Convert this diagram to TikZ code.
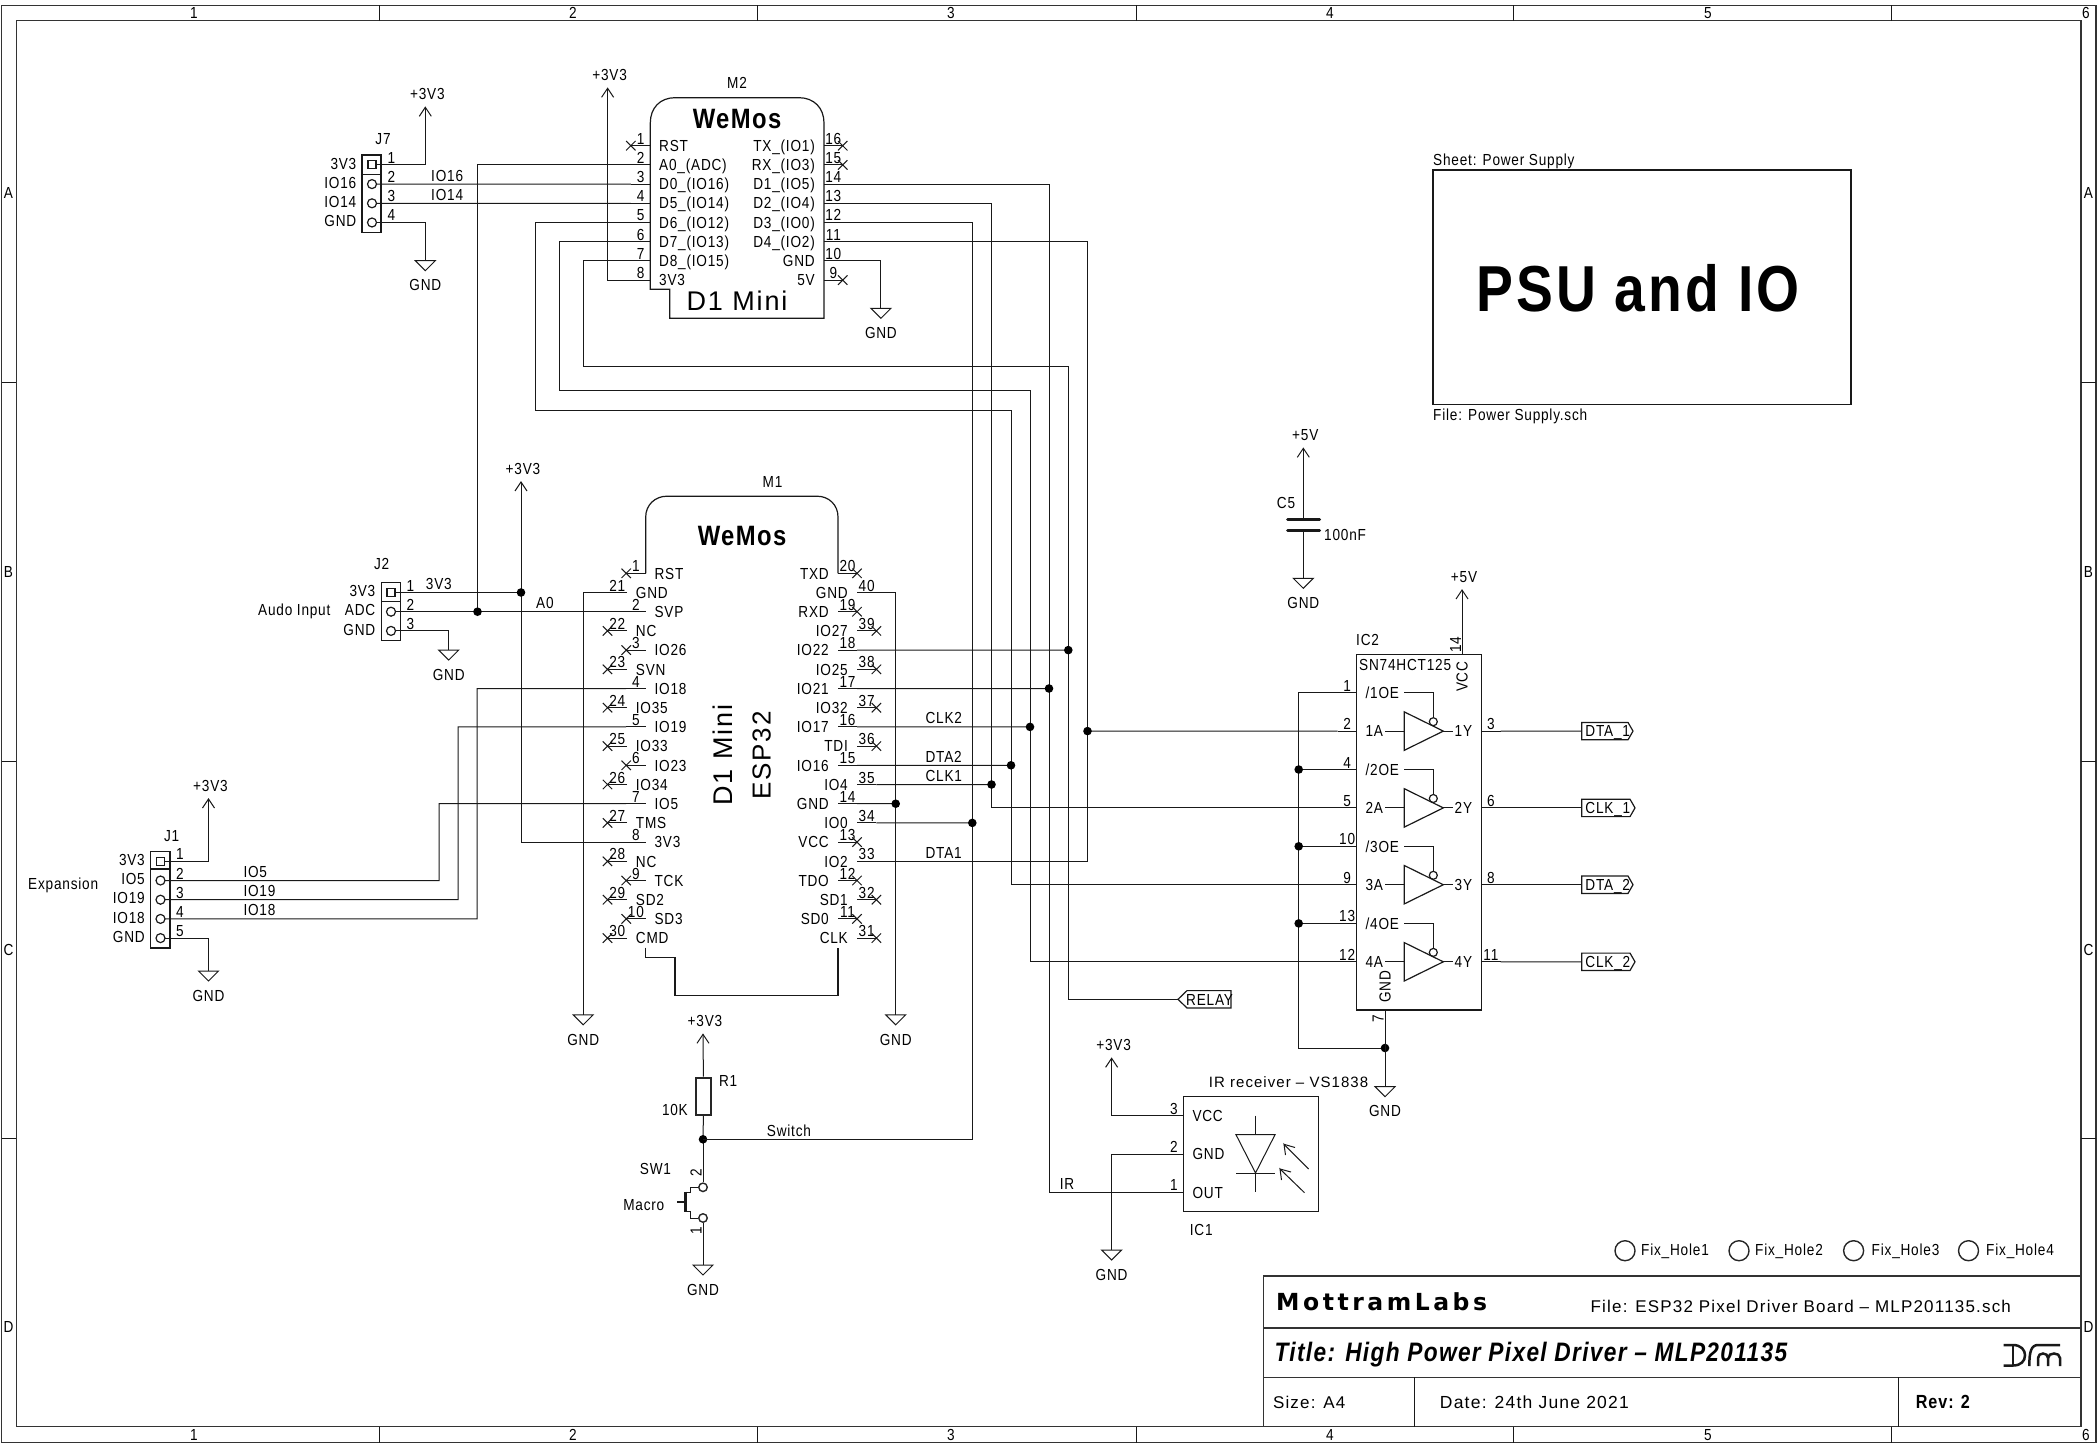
\documentclass[tikz,border=0pt]{standalone}
\usepackage{fontspec}
\setmainfont[FakeStretch=0.85,LetterSpace=5]{Liberation Sans}
\newfontfamily\wfont[LetterSpace=7]{Liberation Sans}
\newfontfamily\brand[LetterSpace=15]{DejaVu Sans}
\usetikzlibrary{calc}
\newcommand{\fs}[1]{\fontsize{#1}{#1}\selectfont}
\tikzset{
  wire/.style={line width=1pt,draw=black!90},
  sym/.style={line width=1.2pt,draw=black!90},
  frameline/.style={line width=1.4pt,draw=black!80},
  tl/.style={anchor=base west,inner sep=0pt,font=\fs{16},yshift=-5.7pt},
  tr/.style={anchor=base east,inner sep=0pt,font=\fs{16},yshift=-5.7pt},
  tc/.style={anchor=base,inner sep=0pt,font=\fs{16},yshift=-5.7pt},
  pnum/.style={anchor=base,inner sep=0pt,font=\fs{16},yshift=1.5pt},
  wlab/.style={anchor=base west,inner sep=0pt,font=\fs{16},yshift=3pt},
  vt/.style={xshift=5.7pt,anchor=base,rotate=90,inner sep=0pt,font=\fs{16}},
}
\newcommand{\lpin}[6]{%
  \coordinate (#1i#2) at (#5,#4); \coordinate (#1o#2) at (#6,#4);
  \draw[wire] (#1i#2) -- (#1o#2);
  \node[pnum] (#1n#2) at ($(#1i#2)!.5!(#1o#2)$) {#2};
  \node[tl] (#1l#2) at ([xshift=8.7pt]#1i#2) {#3};}
\newcommand{\rpin}[6]{%
  \coordinate (#1i#2) at (#5,#4); \coordinate (#1o#2) at (#6,#4);
  \draw[wire] (#1i#2) -- (#1o#2);
  \node[pnum] (#1n#2) at ($(#1i#2)!.5!(#1o#2)$) {#2};
  \node[tr] (#1l#2) at ([xshift=-9pt]#1i#2) {#3};}
\newcommand{\ncx}[1]{\draw[wire] ([shift={(-4.7,-4.7)}]#1) -- ([shift={(4.7,4.7)}]#1) ([shift={(-4.7,4.7)}]#1) -- ([shift={(4.7,-4.7)}]#1);}
\newcommand{\pwrsym}[2]{\draw[wire] ([shift={(-6,9)}]#1) -- (#1) -- ([shift={(6,9)}]#1);
  \node[tc] (#1t) at ([shift={(2,-13.5)}]#1) {#2};}
\newcommand{\gndsym}[1]{\draw[wire] ([shift={(-10,0)}]#1) -- ([shift={(10,0)}]#1) -- ([shift={(0,10)}]#1) -- cycle;
  \node[tc] (#1t) at ([shift={(0,24.5)}]#1) {GND};}
\newcommand{\jdot}[1]{\fill[black] (#1) circle[radius=4.3pt];}
% connector pin: prefix, number, label, centre x, y
\newcommand{\jpin}[5]{%
  \coordinate (#1c#2) at (#4,#5); \coordinate (#1p#2) at ([xshift=4.5pt]#1c#2);
  \draw[sym] (#1c#2) circle[radius=4.5pt];
  \node[pnum] (#1n#2) at ([xshift=19.5pt]#1c#2) {#2};
  \node[tr] (#1l#2) at ([shift={(-15.5,-1.5)}]#1c#2) {#3};}
\newcommand{\jsq}[5]{%
  \coordinate (#1c#2) at (#4,#5); \coordinate (#1p#2) at ([xshift=4pt]#1c#2);
  \draw[sym] ([shift={(-4,-4)}]#1c#2) rectangle ([shift={(4,4)}]#1c#2);
  \node[pnum] (#1n#2) at ([xshift=19.5pt]#1c#2) {#2};
  \node[tr] (#1l#2) at ([shift={(-15.5,-1.5)}]#1c#2) {#3};}
% output flag: name, x, y, text, body right, tip
\newcommand{\flag}[6]{%
  \coordinate (#1) at (#2,#3);
  \draw[sym] (#2,#3-8.7) -- (#5,#3-8.7) -- (#6,#3) -- (#5,#3+8.7) -- (#2,#3+8.7) -- cycle;
  \node[tl] (#1t) at ([xshift=3.5pt]#1) {#4};}
\begin{document}
\begin{tikzpicture}[x=1pt,y=-1pt]
\useasboundingbox (0,0) rectangle (2100,1447);
% ---------- sheet frame
\draw[frameline] (1.5,5.3) rectangle (2096,1442.5);
\draw[frameline] (16.3,20.7) rectangle (2081,1426.7);
\foreach \x in {379,757,1136,1513,1891}{
  \draw[wire] (\x,5.3) -- (\x,20.7);
  \draw[wire] (\x,1426.7) -- (\x,1442.5);}
\foreach \y in {382,761,1138}{
  \draw[wire] (1.5,\y) -- (16.3,\y);
  \draw[wire] (2081,\y) -- (2096,\y);}
\foreach \t/\x in {1/194,2/573,3/951,4/1330,5/1708,6/2086}{
  \node[tc] (gt\t) at (\x,13) {\t};
  \node[tc] (gb\t) at (\x,1434.5) {\t};}
\foreach \t/\y in {A/193,B/572,C/950,D/1327}{
  \node[tc] (gl\t) at (8.5,\y) {\t};
  \node[tc] (gr\t) at (2088.5,\y) {\t};}
% ---------- J7
\draw[sym] (362,155) rectangle (381,232.5);
\draw[sym] (362,174.5) -- (381,174.5);
\node[tc] (j7name) at (383,139) {J7};
\jsq{jg}{1}{3V3}{372}{164.9}
\jpin{jg}{2}{IO16}{372}{184.1}
\jpin{jg}{3}{IO14}{372}{203.3}
\jpin{jg}{4}{GND}{372}{222.5}
% ---------- J2
\draw[sym] (381.3,582.7) rectangle (400.7,640.5);
\draw[sym] (381.3,601.5) -- (400.7,601.5);
\node[tc] (j2name) at (381.7,564) {J2};
\jsq{jb}{1}{3V3}{391}{592.5}
\jpin{jb}{2}{ADC}{391}{611.7}
\jpin{jb}{3}{GND}{391}{630.9}
\node[tl] (audo) at (258,610) {Audo Input};
% ---------- J1
\draw[sym] (150.5,851.7) rectangle (170,948);
\draw[sym] (150.5,869) -- (170,869);
\node[tc] (j1name) at (171.7,836) {J1};
\jsq{ja}{1}{3V3}{160.5}{861.3}
\jpin{ja}{2}{IO5}{160.5}{880.5}
\jpin{ja}{3}{IO19}{160.5}{899.7}
\jpin{ja}{4}{IO18}{160.5}{918.9}
\jpin{ja}{5}{GND}{160.5}{938.1}
\node[tl] (expan) at (28,883.7) {Expansion};
% ---------- M2
\draw[sym] (650.3,145.7) -- (650.3,123) .. controls (650.3,108) and (660,97.7) .. (675,97.7)
  -- (799,97.7) .. controls (814,97.7) and (824,108) .. (824,123) -- (824,318.3) -- (669.7,318.3) -- (669.7,289.3) -- (650.3,289.3) -- cycle;
\node[tc] (m2name) at (737,83) {M2};
\node[anchor=base,inner sep=0pt,font=\fs{28}\bfseries] (m2brand) at (737,129) {WeMos};
\node[anchor=base,inner sep=0pt,font=\fs{27}\wfont] (m2kind) at (737,310) {D1 Mini};
\foreach \r/\n/\t in {0/1/RST,1/2/A0\_(ADC),2/3/D0\_(IO16),3/4/D5\_(IO14),4/5/D6\_(IO12),5/6/D7\_(IO13),6/7/D8\_(IO15),7/8/3V3}{
  \pgfmathsetmacro\yy{145.7+19.2*\r}
  \lpin{m2}{\n}{\t}{\yy}{650.3}{630.8}}
\foreach \r/\n/\t in {0/16/TX\_(IO1),1/15/RX\_(IO3),2/14/D1\_(IO5),3/13/D2\_(IO4),4/12/D3\_(IO0),5/11/D4\_(IO2),6/10/GND,7/9/5V}{
  \pgfmathsetmacro\yy{145.7+19.2*\r}
  \rpin{m2}{\n}{\t}{\yy}{824}{842.7}}
\foreach \n in {1,16,15,9}{\ncx{m2o\n}}
% ---------- M1
\draw[sym] (645.7,573.3) -- (645.7,517) .. controls (645.7,505) and (655,496.2) .. (667,496.2)
  -- (817,496.2) .. controls (829,496.2) and (838,505) .. (838,517) -- (838,573.3);
\draw[sym] (645.7,947.6) -- (645.7,957.3) -- (675,957.3) -- (675,995.8) -- (838,995.8) -- (838,947.6);
\node[tc] (m1name) at (772.5,482) {M1};
\node[anchor=base,inner sep=0pt,font=\fs{28}\bfseries] (m1brand) at (742,545) {WeMos};
\node[xshift=10pt,anchor=base,rotate=90,inner sep=0pt,font=\fs{27}\wfont] (m1kind) at (722.5,755) {D1 Mini};
\node[xshift=10pt,anchor=base,rotate=90,inner sep=0pt,font=\fs{26}\wfont] (m1chip) at (760.7,755.5) {ESP32};
\foreach \r/\n/\t in {0/1/RST,1/21/GND,2/2/SVP,3/22/NC,4/3/IO26,5/23/SVN,6/4/IO18,7/24/IO35,8/5/IO19,9/25/IO33,10/6/IO23,11/26/IO34,12/7/IO5,13/27/TMS,14/8/3V3,15/28/NC,16/9/TCK,17/29/SD2,18/10/SD3,19/30/CMD}{
  \pgfmathsetmacro\yy{573.3+19.2*\r}
  \pgfmathtruncatemacro\oddrow{mod(\r,2)}
  \ifnum\oddrow=0 \lpin{m1}{\n}{\t}{\yy}{645.7}{626.2}\else \lpin{m1}{\n}{\t}{\yy}{627}{607.5}\fi}
\foreach \r/\n/\t in {0/20/TXD,1/40/GND,2/19/RXD,3/39/IO27,4/18/IO22,5/38/IO25,6/17/IO21,7/37/IO32,8/16/IO17,9/36/TDI,10/15/IO16,11/35/IO4,12/14/GND,13/34/IO0,14/13/VCC,15/33/IO2,16/12/TDO,17/32/SD1,18/11/SD0,19/31/CLK}{
  \pgfmathsetmacro\yy{573.3+19.2*\r}
  \pgfmathtruncatemacro\oddrow{mod(\r,2)}
  \ifnum\oddrow=0 \rpin{m1r}{\n}{\t}{\yy}{838}{857}\else \rpin{m1r}{\n}{\t}{\yy}{857}{876.4}\fi}
\foreach \n in {1,22,3,23,24,25,6,26,27,28,9,29,10,30}{\ncx{m1o\n}}
\foreach \n in {20,19,39,38,37,36,13,12,32,11,31}{\ncx{m1ro\n}}
% ---------- IC2
\draw[sym] (1356.7,654.3) rectangle (1481.3,1010);
\node[tl] (ic2name) at (1356,640) {IC2};
\node[tl] (ic2type) at (1359,665) {SN74HCT125};
\node[vt] (ic2vcc) at (1462,676.7) {VCC};
\node[vt] (ic2gnd) at (1385,986.7) {GND};
\node[vt] (ic2n14) at (1455.3,645) {14};
\node[vt] (ic2n7) at (1378,1019) {7};
\coordinate (ic2v) at (1462,654.3);
\coordinate (ic2g) at (1385,1010);
\foreach \k/\oe/\a/\o/\y in {1/1/2/3/692.7,2/4/5/6/769.5,3/10/9/8/846.3,4/13/12/11/923.4}{
  \pgfmathsetmacro\ya{\y+38.4}
  \lpin{ic}{\oe}{/\k OE}{\y}{1356.7}{1337.5}
  \lpin{ic}{\a}{\k A}{\ya}{1356.7}{1337.5}
  \rpin{ic}{\o}{\k Y}{\ya}{1481.3}{1500.5}
  \coordinate (ga\k) at (1404.3,\ya);
  \draw[sym] (ga\k) ++(0,-19.2) -- (1443.3,\ya) -- (1404.3,\ya+19.2) -- cycle;
  \draw[wire] (1385,\ya) -- (ga\k);
  \draw[wire] (1443.3,\ya) -- (1452.7,\ya);
  \draw[wire] (1404.3,\y) -- (1433.3,\y) -- (1433.3,\y+25);
  \draw[sym] (1433.3,\y+29) circle[radius=4pt];}
\flag{fd1}{1581.7}{731.1}{DTA\_1}{1628}{1633}
\flag{fc1}{1581.7}{807.9}{CLK\_1}{1630}{1635}
\flag{fd2}{1581.7}{884.7}{DTA\_2}{1628}{1633}
\flag{fc2}{1581.7}{961.8}{CLK\_2}{1630}{1635}
\draw[wire] (ico3) -- (fd1);
\draw[wire] (ico6) -- (fc1);
\draw[wire] (ico8) -- (fd2);
\draw[wire] (ico11) -- (fc2);
% enable rail
\coordinate (oe2) at (1298.7,769.5);
\coordinate (oe3) at (1298.7,846.3);
\coordinate (oe4) at (1298.7,923.4);
\coordinate (oeb) at (1298.7,1048);
\coordinate (ic2j) at (1385,1048);
\draw[wire] (ico1) -| (oeb) -- (ic2j);
\draw[wire] (ico4) -- (oe2);
\draw[wire] (ico10) -- (oe3);
\draw[wire] (ico13) -- (oe4);
\foreach \c in {oe2,oe3,oe4,ic2j}{\jdot{\c}}
\coordinate (gic2) at (1385,1086.7);
\draw[wire] (ic2g) -- (gic2);
\gndsym{gic2}
\coordinate (p5b) at (1462,590);
\draw[wire] (ic2v) -- (p5b);
\pwrsym{p5b}{+5V}
% ---------- C5
\coordinate (p5a) at (1303.3,448.3);
\coordinate (c5t) at (1303.3,519.3);
\coordinate (c5u) at (1303.3,530.7);
\coordinate (gc5) at (1303.3,578.3);
\draw[wire] (p5a) -- (c5t);
\draw[wire] (c5u) -- (gc5);
\draw[line width=3pt,line cap=round,black!90] (1287.5,519.3) -- (1319.5,519.3);
\draw[line width=3pt,line cap=round,black!90] (1287.5,530.7) -- (1319.5,530.7);
\pwrsym{p5a}{+5V}
\gndsym{gc5}
\node[tl] (c5name) at (1276.7,502.3) {C5};
\node[tl] (c5val) at (1324,535) {100nF};
% ---------- R1 and SW1
\coordinate (pr1) at (703,1034.3);
\node[draw=black!85,line width=2pt,minimum width=14.5pt,minimum height=37.5pt,inner sep=0pt] (r1) at (703.4,1096.3) {};
\coordinate (dsw) at (703,1139.3);
\node[circle,draw=black!85,line width=1.4pt,minimum size=8.5pt,inner sep=0pt] (sw2) at (703,1187.3) {};
\node[circle,draw=black!85,line width=1.4pt,minimum size=8.5pt,inner sep=0pt] (sw1) at (703,1218) {};
\coordinate (gsw) at (703,1265);
\draw[wire] (pr1) -- (r1.north);
\draw[wire] (r1.south) -- (dsw);
\draw[wire] (dsw) -- (sw2.north);
\draw[wire] (sw1.south) -- (gsw);
\jdot{dsw}
\pwrsym{pr1}{+3V3}
\gndsym{gsw}
\node[tl] (r1name) at (718.8,1081) {R1};
\node[tr] (r1val) at (688,1110) {10K};
\node[tc] (swname) at (655.5,1169) {SW1};
\node[tc] (swval) at (643.8,1205) {Macro};
\node[vt] (swn2) at (696,1173) {2};
\node[vt] (swn1) at (696,1230.7) {1};
\draw[line width=2.4pt,black!90] (685.6,1191.7) -- (685.6,1211.7);
\draw[line width=2.4pt,black!90] (677,1201.7) -- (685.6,1201.7);
\draw[wire] (sw2.west) -- (690.7,1187.3) -- (690.7,1192) -- (685.6,1192);
\draw[wire] (sw1.west) -- (690.7,1218) -- (690.7,1211.5) -- (685.6,1211.5);
% ---------- IC1
\draw[sym] (1183.6,1096.7) rectangle (1318.3,1211.7);
\node[tl,font=\fs{15}\wfont] (ic1top) at (1208.6,1081.7) {IR receiver \textendash{} VS1838};
\node[tl] (ic1name) at (1189.7,1230) {IC1};
\lpin{ir}{3}{VCC}{1115.7}{1183.6}{1164.4}
\lpin{ir}{2}{GND}{1154}{1183.6}{1164.4}
\lpin{ir}{1}{OUT}{1192.3}{1183.6}{1164.4}
\coordinate (d1) at (1255.5,1115.7);
\coordinate (d2) at (1255.5,1134.7);
\coordinate (d3) at (1255.5,1173);
\coordinate (d4) at (1255.5,1192.3);
\draw[wire] (d1) -- (d2);
\draw[wire] (d3) -- (d4);
\draw[wire] ([xshift=-19.5pt]d2) -- ([xshift=19.5pt]d2) -- (d3) -- cycle;
\draw[wire] ([xshift=-19.5pt]d3) -- ([xshift=19.5pt]d3);
\draw[wire] (1308.6,1169) -- (1284,1144.3) -- (1285.5,1155);
\draw[wire] (1284,1144.3) -- (1295,1147.5);
\draw[wire] (1304.5,1192.7) -- (1280,1169) -- (1281.5,1180);
\draw[wire] (1280,1169) -- (1291,1172);
\coordinate (pir) at (1111.6,1058.3);
\coordinate (gir) at (1111.6,1250);
\draw[wire] (iro3) -| (pir);
\draw[wire] (iro2) -| (gir);
\pwrsym{pir}{+3V3}
\gndsym{gir}
% ---------- power on connectors and modules
\coordinate (pj7) at (425.3,107.3);
\coordinate (gj7) at (425.3,260.7);
\draw[wire] (jgp1) -| (pj7);
\draw[wire] (jgp4) -| (gj7);
\pwrsym{pj7}{+3V3}
\gndsym{gj7}
\coordinate (pj1) at (208.5,799);
\coordinate (gj1) at (208.5,971);
\draw[wire] (jap1) -| (pj1);
\draw[wire] (jap5) -| (gj1);
\pwrsym{pj1}{+3V3}
\gndsym{gj1}
\coordinate (gj2) at (448.7,650);
\draw[wire] (jbp3) -| (gj2);
\gndsym{gj2}
\coordinate (pm2) at (607.6,88.3);
\draw[wire] (m2o8) -| (pm2);
\pwrsym{pm2}{+3V3}
\coordinate (gm2) at (880.9,308.3);
\draw[wire] (m2o10) -| (gm2);
\gndsym{gm2}
\coordinate (pm1) at (521,482);
\coordinate (ds) at (521,592.5);
\draw[wire] (pm1) |- (m1o8);
\draw[wire] (jbp1) -- (ds);
\jdot{ds}
\pwrsym{pm1}{+3V3}
\coordinate (gl) at (583.2,1014.8);
\coordinate (gr) at (895.7,1014.8);
\coordinate (dg) at (895.7,803.7);
\draw[wire] (m1o21) -| (gl);
\draw[wire] (m1ro40) -| (gr);
\draw[wire] (m1ro14) -- (dg);
\jdot{dg}
\gndsym{gl}
\gndsym{gr}
% ---------- signal wires, left
\coordinate (da) at (477.5,611.7);
\draw[wire] (jbp2) -- (m1o2);
\draw[wire] (m2o2) -| (da);
\jdot{da}
\draw[wire] (jgp2) -- (m2o3);
\draw[wire] (jgp3) -- (m2o4);
\coordinate (va) at (439,803.7);
\coordinate (vb) at (458,726.9);
\coordinate (vc) at (477,688.5);
\draw[wire] (jap2) -| (va) -- (m1o7);
\draw[wire] (jap3) -| (vb) -- (m1o5);
\draw[wire] (jap4) -| (vc) -- (m1o4);
% ---------- signal wires, right
\coordinate (d22) at (1068.3,650.1);
\coordinate (d21) at (1049,688.5);
\coordinate (d17) at (1030,726.9);
\coordinate (d16) at (1011,765.3);
\coordinate (d04) at (991.5,784.5);
\coordinate (d00) at (972.3,822.9);
\coordinate (d1a) at (1087.5,731.1);
\coordinate (c5x) at (535.3,410);
\coordinate (c6x) at (559.4,390.7);
\coordinate (c7x) at (583,366.3);
\draw[wire] (m1ro18) -- (d22);
\draw[wire] (m1ro17) -- (d21);
\draw[wire] (m1ro16) -- (d17);
\draw[wire] (m1ro15) -- (d16);
\draw[wire] (m1ro35) -- (d04);
\draw[wire] (m1ro34) -- (d00);
\draw[wire] (m2o14) -| (d21) |- (iro1);
\draw[wire] (m2o13) -| (d04) |- (ico5);
\draw[wire] (m2o12) -| (d00) |- (dsw);
\draw[wire] (m2o11) -| (d1a) |- (m1ro33);
\draw[wire] (d1a) -- (ico2);
\draw[wire] (m2o5) -| (c5x) -| (d16) |- (ico9);
\draw[wire] (m2o6) -| (c6x) -| (d17) |- (ico12);
% relay flag
\coordinate (rly) at (1178,999.3);
\draw[wire] (m2o7) -| (c7x) -| (d22) |- (rly);
\draw[sym] (1178,999.3) -- (1187,990.6) -- (1231,990.6) -- (1231,1008) -- (1187,1008) -- cycle;
\node[tl] (rlyt) at (1186,999.3) {RELAY};
\foreach \c in {d22,d21,d17,d16,d04,d00,d1a}{\jdot{\c}}
% wire labels
\node[wlab] (wclk2) at (925.4,726.9) {CLK2};
\node[wlab] (wdta2) at (925.4,765.3) {DTA2};
\node[wlab] (wclk1) at (925.4,784.5) {CLK1};
\node[wlab] (wdta1) at (925.4,861.3) {DTA1};
\node[wlab] (wio16) at (431,184.1) {IO16};
\node[wlab] (wio14) at (431,203.3) {IO14};
\node[wlab] (w3v3) at (425.7,592.5) {3V3};
\node[wlab] (wa0) at (536,611.7) {A0};
\node[wlab] (wio5) at (243.3,880.5) {IO5};
\node[wlab] (wio19) at (243.3,899.7) {IO19};
\node[wlab] (wio18) at (243.3,918.9) {IO18};
\node[wlab] (wsw) at (766.7,1139.3) {Switch};
\node[wlab] (wir) at (1059.6,1192.3) {IR};
% ---------- sheet box
\draw[sym] (1433,170) rectangle (1851,404.5);
\node[tl] (shname) at (1433,159.4) {Sheet: Power Supply};
\node[tl] (shfile) at (1433,415) {File: Power Supply.sch};
\node[anchor=base,inner sep=0pt,font=\fs{65}\bfseries] (shtitle) at (1638,311) {PSU and IO};
% ---------- fixing holes
\foreach \i/\cx/\tx in {1/1625/1641,2/1739/1755,3/1853.6/1871.5,4/1968.5/1986}{
  \node[circle,draw=black!85,line width=1.4pt,minimum size=20pt,inner sep=0pt] (hole\i) at (\cx,1250.7) {};
  \node[tl] (holet\i) at (\tx,1250) {Fix\_Hole\i};}
% ---------- title block
\draw[frameline] (1263.5,1276) rectangle (2081,1426.7);
\draw[frameline] (1263.5,1328) -- (2081,1328);
\draw[frameline] (1263.5,1377.3) -- (2081,1377.3);
\draw[wire] (1414,1377.3) -- (1414,1426.7);
\draw[wire] (1898.8,1377.3) -- (1898.8,1426.7);
\node[anchor=base west,inner sep=0pt,font=\fs{23.5}\brand\bfseries] (tbco) at (1276,1310) {MottramLabs};
\node[tl,font=\fs{17}\wfont] (tbfile) at (1590.4,1306.7) {File: ESP32 Pixel Driver Board \textendash{} MLP201135.sch};
\node[anchor=base west,inner sep=0pt,font=\fs{26.7}\bfseries\itshape] (tbtitle) at (1274.4,1361) {Title: High Power Pixel Driver -- MLP201135};
\node[tl,font=\fs{17}\wfont] (tbsize) at (1272.8,1403) {Size: A4};
\node[tl,font=\fs{17.5}\wfont] (tbdate) at (1439.7,1403) {Date: 24th June 2021};
\node[tl,font=\fs{19}\bfseries] (tbrev) at (1915.6,1403) {Rev: 2};
\begin{scope}[line width=2.5pt,black!90]
\draw (2003.5,1345) -- (2013,1345) .. controls (2021,1345) and (2025,1350) .. (2025,1355.2) .. controls (2025,1361) and (2021,1365.5) .. (2013,1365.5) -- (2003.5,1365.5);
\draw (2013,1345) -- (2013,1365.5);
\draw (2029.3,1366) .. controls (2029.3,1352) and (2031,1345) .. (2038,1345) -- (2060,1345);
\draw (2038,1366) -- (2038,1358) .. controls (2038,1352) and (2048,1352) .. (2048,1358) -- (2048,1366);
\draw (2048,1358) .. controls (2048,1352) and (2060,1352) .. (2060,1358) -- (2060,1366);
\end{scope}
\end{tikzpicture}
\end{document}
